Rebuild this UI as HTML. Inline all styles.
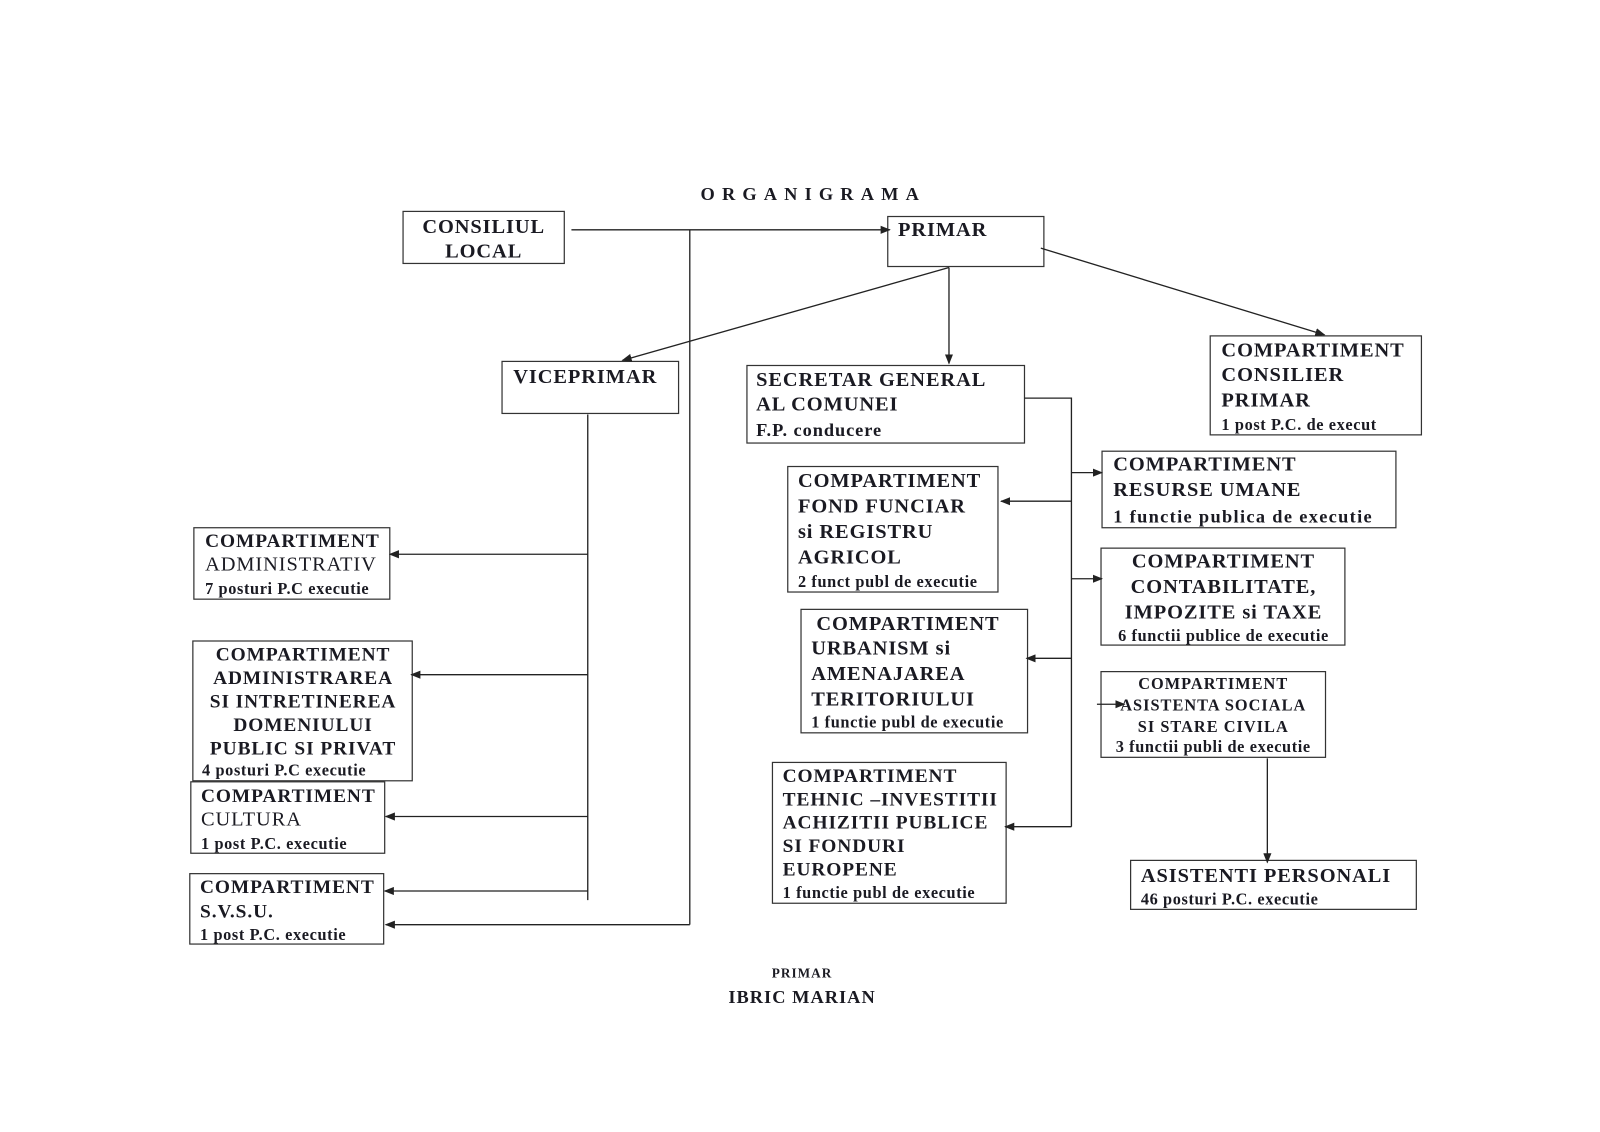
<!DOCTYPE html>
<html><head><meta charset="utf-8"><style>
html,body{margin:0;padding:0;background:#fff;}
svg{display:block;}
text{font-family:"Liberation Serif",serif;font-weight:bold;fill:#1a1a22;}
.b{font-size:20px;letter-spacing:0.9px;}
.s{font-size:16px;letter-spacing:0.6px;}
.n{font-weight:normal;}
.c{text-anchor:middle;}
rect{fill:none;stroke:#333;stroke-width:1.2;}
line,polyline{stroke:#222;stroke-width:1.3;fill:none;}
</style></head><body>
<svg width="1600" height="1132" viewBox="0 0 1568 1109" xmlns="http://www.w3.org/2000/svg">
<defs><marker id="a" markerWidth="10" markerHeight="8" refX="9" refY="4" orient="auto" markerUnits="userSpaceOnUse"><path d="M0,0 L10,4 L0,8 Z" fill="#222"/></marker></defs>

<text x="797" y="196" class="c" style="font-size:18px;letter-spacing:7px">ORGANIGRAMA</text>

<rect x="395" y="207" width="158" height="51"/>
<text x="474" y="228" class="b c">CONSILIUL</text><text x="474" y="252" class="b c">LOCAL</text>
<rect x="870" y="212" width="153" height="49"/>
<text x="880" y="231" class="b">PRIMAR</text>
<rect x="492" y="354" width="173" height="51"/>
<text x="503" y="375" class="b">VICEPRIMAR</text>
<rect x="732" y="358" width="272" height="76"/>
<text x="741" y="378" class="b">SECRETAR GENERAL</text><text x="741" y="402" class="b">AL COMUNEI</text><text x="741" y="427" class="b" style="font-size:18px">F.P. conducere</text>
<rect x="1186" y="329" width="207" height="97"/>
<text x="1197" y="349" class="b">COMPARTIMENT</text><text x="1197" y="373" class="b">CONSILIER</text><text x="1197" y="398" class="b">PRIMAR</text><text x="1197" y="421" class="s">1 post P.C. de execut</text>
<rect x="1080" y="442" width="288" height="75"/>
<text x="1091" y="461" class="b">COMPARTIMENT</text><text x="1091" y="486" class="b">RESURSE UMANE</text><text x="1091" y="512" class="b" style="font-size:18px;letter-spacing:1.3px">1 functie publica de executie</text>
<rect x="772" y="457" width="206" height="123"/>
<text x="782" y="477" class="b">COMPARTIMENT</text><text x="782" y="502" class="b">FOND FUNCIAR</text><text x="782" y="527" class="b">si REGISTRU</text><text x="782" y="552" class="b">AGRICOL</text><text x="782" y="575" class="s">2 funct publ de executie</text>
<rect x="1079" y="537" width="239" height="95"/>
<text x="1199" y="556" class="b c">COMPARTIMENT</text><text x="1199" y="581" class="b c">CONTABILITATE,</text><text x="1199" y="606" class="b c">IMPOZITE si TAXE</text><text x="1199" y="628" class="s c">6 functii publice de executie</text>
<rect x="785" y="597" width="222" height="121"/>
<text x="800" y="617" class="b">COMPARTIMENT</text><text x="795" y="641" class="b">URBANISM si</text><text x="795" y="666" class="b">AMENAJAREA</text><text x="795" y="691" class="b">TERITORIULUI</text><text x="795" y="713" class="s">1 functie publ de executie</text>
<rect x="1079" y="658" width="220" height="84"/>
<text x="1189" y="675" class="c" style="font-size:16px;letter-spacing:1px">COMPARTIMENT</text><text x="1189" y="696" class="c" style="font-size:16px;letter-spacing:1px">ASISTENTA SOCIALA</text><text x="1189" y="717" class="c" style="font-size:16px;letter-spacing:1px">SI STARE CIVILA</text><text x="1189" y="737" class="s c">3 functii publi de executie</text>
<rect x="757" y="747" width="229" height="138"/>
<text x="767" y="766" class="b" style="font-size:19px">COMPARTIMENT</text><text x="767" y="789" class="b" style="font-size:19px">TEHNIC –INVESTITII</text><text x="767" y="812" class="b" style="font-size:19px">ACHIZITII PUBLICE</text><text x="767" y="835" class="b" style="font-size:19px">SI FONDURI</text><text x="767" y="858" class="b" style="font-size:19px">EUROPENE</text><text x="767" y="880" class="s">1 functie publ de executie</text>
<rect x="1108" y="843" width="280" height="48"/>
<text x="1118" y="864" class="b">ASISTENTI PERSONALI</text><text x="1118" y="886" class="s">46 posturi P.C. executie</text>
<rect x="190" y="517" width="192" height="70"/>
<text x="201" y="536" class="b" style="font-size:19px">COMPARTIMENT</text><text x="201" y="559" class="b n">ADMINISTRATIV</text><text x="201" y="582" class="s">7 posturi P.C executie</text>
<rect x="189" y="628" width="215" height="137"/>
<text x="297" y="647" class="b c" style="font-size:19px">COMPARTIMENT</text><text x="297" y="670" class="b c" style="font-size:19px">ADMINISTRAREA</text><text x="297" y="693" class="b c" style="font-size:19px">SI INTRETINEREA</text><text x="297" y="716" class="b c" style="font-size:19px">DOMENIULUI</text><text x="297" y="739" class="b c" style="font-size:19px">PUBLIC SI PRIVAT</text><text x="198" y="760" class="s">4 posturi P.C executie</text>
<rect x="187" y="766" width="190" height="70"/>
<text x="197" y="786" class="b" style="font-size:19px">COMPARTIMENT</text><text x="197" y="809" class="b n">CULTURA</text><text x="197" y="832" class="s">1 post P.C. executie</text>
<rect x="186" y="856" width="190" height="69"/>
<text x="196" y="875" class="b" style="font-size:19px">COMPARTIMENT</text><text x="196" y="899" class="b" style="font-size:19px">S.V.S.U.</text><text x="196" y="921" class="s">1 post P.C. executie</text>

<text x="786" y="958" class="c" style="font-size:13px;letter-spacing:1px">PRIMAR</text>
<text x="786" y="983" class="c" style="font-size:18px;letter-spacing:1px">IBRIC MARIAN</text>

<line x1="560" y1="225" x2="872" y2="225" marker-end="url(#a)"/>
<line x1="676" y1="225" x2="676" y2="906"/>
<line x1="676" y1="906" x2="378" y2="906" marker-end="url(#a)"/>
<line x1="930" y1="262" x2="610" y2="353" marker-end="url(#a)"/>
<line x1="930" y1="262" x2="930" y2="356" marker-end="url(#a)"/>
<line x1="1020" y1="243" x2="1298" y2="328" marker-end="url(#a)"/>
<line x1="576" y1="406" x2="576" y2="882"/>
<line x1="576" y1="543" x2="382" y2="543" marker-end="url(#a)"/>
<line x1="576" y1="661" x2="403" y2="661" marker-end="url(#a)"/>
<line x1="576" y1="800" x2="378" y2="800" marker-end="url(#a)"/>
<line x1="576" y1="873" x2="377" y2="873" marker-end="url(#a)"/>
<polyline points="1004,390 1050,390 1050,810"/>
<line x1="1050" y1="463" x2="1080" y2="463" marker-end="url(#a)"/>
<line x1="1050" y1="491" x2="981" y2="491" marker-end="url(#a)"/>
<line x1="1050" y1="567" x2="1080" y2="567" marker-end="url(#a)"/>
<line x1="1050" y1="645" x2="1006" y2="645" marker-end="url(#a)"/>
<line x1="1075" y1="690" x2="1102" y2="690" marker-end="url(#a)"/>
<line x1="1050" y1="810" x2="985" y2="810" marker-end="url(#a)"/>
<line x1="1242" y1="743" x2="1242" y2="845" marker-end="url(#a)"/>
</svg>
</body></html>
